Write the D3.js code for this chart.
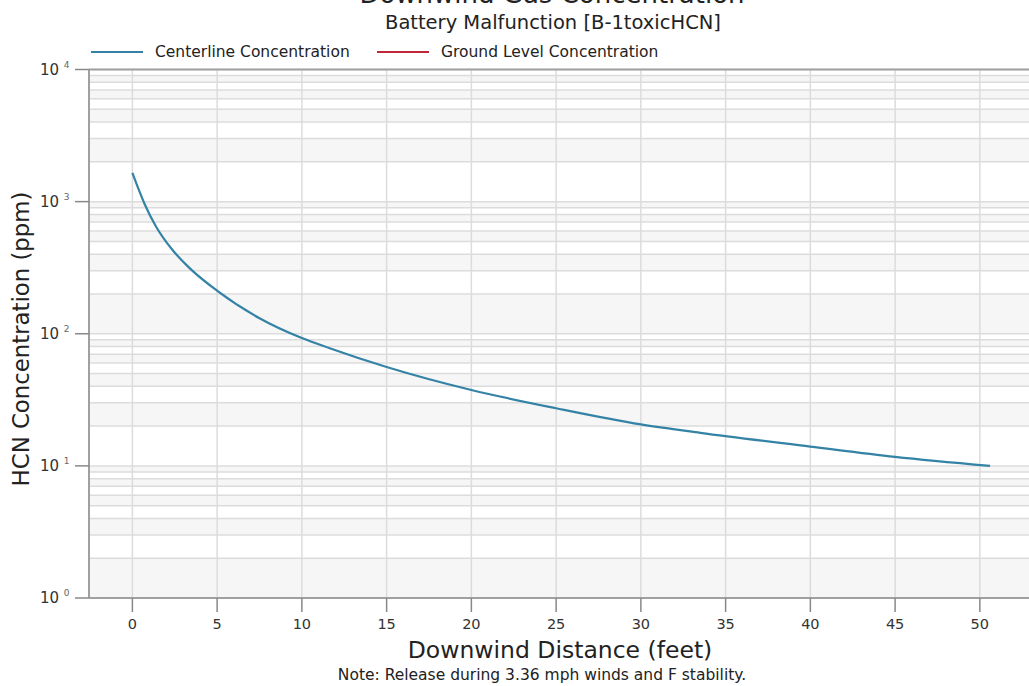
<!DOCTYPE html>
<html>
<head>
<meta charset="utf-8">
<script src="https://cdn.jsdelivr.net/npm/d3@7"></script>
<style>
  body { margin: 0; background: #fff; }
  text { font-family: "DejaVu Sans", Verdana, sans-serif; }
</style>
</head>
<body>
<svg id="chart" width="1029" height="686"></svg>
<script>
// data
const distance = [0, 0.41, 0.72, 1.4, 2.37, 3.36, 5.03, 7.5, 10, 11.6, 15, 20, 25, 30, 33.5, 40, 45, 50.6];
const centerline = [1650, 1200, 960, 646, 430, 315, 210, 131, 92.7, 78, 56, 37.5, 27.3, 20.6, 17.8, 14.0, 11.7, 10.0];
const groundLevel = []; // nothing drawn for this one
const xTicks = [0, 5, 10, 15, 20, 25, 30, 35, 40, 45, 50];
const yExponents = [0, 1, 2, 3, 4];
const seriesNames = ["Centerline Concentration", "Ground Level Concentration"];
const seriesColors = ["#3483a6", "#c0283a"];

const svg = d3.select("#chart");
const plotLeft = 89, plotRight = 1029, plotTop = 69.5, plotBottom = 598;

const x = d3.scaleLinear().domain([-2.56, 52.9]).range([plotLeft, plotRight]);
const y = d3.scaleLog().domain([1, 10000]).range([plotBottom, plotTop]);

// alternating bands between minor gridlines
const bands = [];
yExponents.slice(0, 4).forEach(d => {
  for (let k = 1; k <= 9; k++) {
    bands.push({ lo: k * Math.pow(10, d), hi: (k + 1) * Math.pow(10, d), i: d * 9 + k - 1 });
  }
});
svg.append("g").selectAll("rect")
  .data(bands.filter(b => b.i % 2 === 0))
  .enter().append("rect")
  .attr("x", plotLeft)
  .attr("width", plotRight - plotLeft)
  .attr("y", d => y(d.hi))
  .attr("height", d => y(d.lo) - y(d.hi))
  .attr("fill", "#f6f6f6");

// horizontal gridlines
svg.append("g").selectAll("line")
  .data(bands.map(b => b.hi))
  .enter().append("line")
  .attr("x1", plotLeft).attr("x2", plotRight)
  .attr("y1", d => y(d)).attr("y2", d => y(d))
  .attr("stroke", "#dcdcdc")
  .attr("stroke-width", 1.5);

// vertical gridlines
svg.append("g").selectAll("line")
  .data(xTicks)
  .enter().append("line")
  .attr("x1", d => x(d)).attr("x2", d => x(d))
  .attr("y1", plotTop).attr("y2", plotBottom)
  .attr("stroke", "#dcdcdc")
  .attr("stroke-width", 1.5);

// frame lines
svg.append("line").attr("x1", plotLeft).attr("x2", plotRight).attr("y1", plotTop).attr("y2", plotTop)
  .attr("stroke", "#a0a0a0").attr("stroke-width", 2);
svg.append("line").attr("x1", plotLeft).attr("x2", plotRight).attr("y1", plotBottom).attr("y2", plotBottom)
  .attr("stroke", "#a0a0a0").attr("stroke-width", 2);
svg.append("line").attr("x1", plotLeft).attr("x2", plotLeft).attr("y1", plotTop).attr("y2", plotBottom)
  .attr("stroke", "#a0a0a0").attr("stroke-width", 2);

// x axis ticks
const xAxis = svg.append("g");
xAxis.selectAll("line")
  .data(xTicks)
  .enter().append("line")
  .attr("x1", d => x(d)).attr("x2", d => x(d))
  .attr("y1", plotBottom).attr("y2", plotBottom + 14)
  .attr("stroke", "#888").attr("stroke-width", 1.5);
xAxis.selectAll("text")
  .data(xTicks)
  .enter().append("text")
  .attr("x", d => x(d))
  .attr("y", 629)
  .attr("text-anchor", "middle")
  .attr("font-size", 14.5)
  .attr("fill", "#333")
  .text(d => d);

// y axis ticks, 10 with superscript exponent
const yAxis = svg.append("g");
yAxis.selectAll("line")
  .data(yExponents)
  .enter().append("line")
  .attr("x1", plotLeft - 14).attr("x2", plotLeft)
  .attr("y1", d => y(Math.pow(10, d))).attr("y2", d => y(Math.pow(10, d)))
  .attr("stroke", "#888").attr("stroke-width", 1.5);
const yLabels = yAxis.selectAll("text")
  .data(yExponents)
  .enter().append("text")
  .attr("x", 40)
  .attr("y", d => y(Math.pow(10, d)) + 5)
  .attr("font-size", 15)
  .attr("fill", "#333");
yLabels.append("tspan").text("10 ");
yLabels.append("tspan").attr("dy", -7).attr("font-size", 9).attr("fill", "#666").text(d => d);

// the curve
const line = d3.line()
  .x(d => x(d[0]))
  .y(d => y(d[1]))
  .curve(d3.curveMonotoneX);

svg.append("path")
  .datum(distance.map((d, i) => [d, centerline[i]]))
  .attr("d", line)
  .attr("fill", "none")
  .attr("stroke", seriesColors[0])
  .attr("stroke-width", 2.2);

svg.append("path")
  .datum(groundLevel)
  .attr("d", line)
  .attr("fill", "none")
  .attr("stroke", seriesColors[1])
  .attr("stroke-width", 2);

// legend
const legendX = [91, 377];
seriesNames.forEach((name, i) => {
  const g = svg.append("g").attr("transform", `translate(${legendX[i]}, 52)`);
  g.append("line").attr("x1", 0).attr("x2", 52).attr("y1", 0).attr("y2", 0)
    .attr("stroke", seriesColors[i]).attr("stroke-width", 2);
  g.append("text").attr("x", 64).attr("y", 5)
    .attr("font-size", 15.5).attr("fill", "#222").text(name);
});

// titles (main title runs off the top of the picture)
svg.append("text")
  .attr("x", 552).attr("y", 3)
  .attr("text-anchor", "middle")
  .attr("font-size", 26)
  .attr("fill", "#222")
  .text("Downwind Gas Concentration");

svg.append("text")
  .attr("x", 553).attr("y", 29)
  .attr("text-anchor", "middle")
  .attr("font-size", 19.5)
  .attr("fill", "#222")
  .text("Battery Malfunction [B-1toxicHCN]");

svg.append("text")
  .attr("x", 560).attr("y", 658)
  .attr("text-anchor", "middle")
  .attr("font-size", 23.5)
  .attr("fill", "#222")
  .text("Downwind Distance (feet)");

svg.append("text")
  .attr("x", 542).attr("y", 680)
  .attr("text-anchor", "middle")
  .attr("font-size", 15.5)
  .attr("fill", "#222")
  .text("Note: Release during 3.36 mph winds and F stability.");

svg.append("text")
  .attr("transform", "translate(29, 339) rotate(-90)")
  .attr("text-anchor", "middle")
  .attr("font-size", 22.8)
  .attr("fill", "#222")
  .text("HCN Concentration (ppm)");
</script>
</body>
</html>
